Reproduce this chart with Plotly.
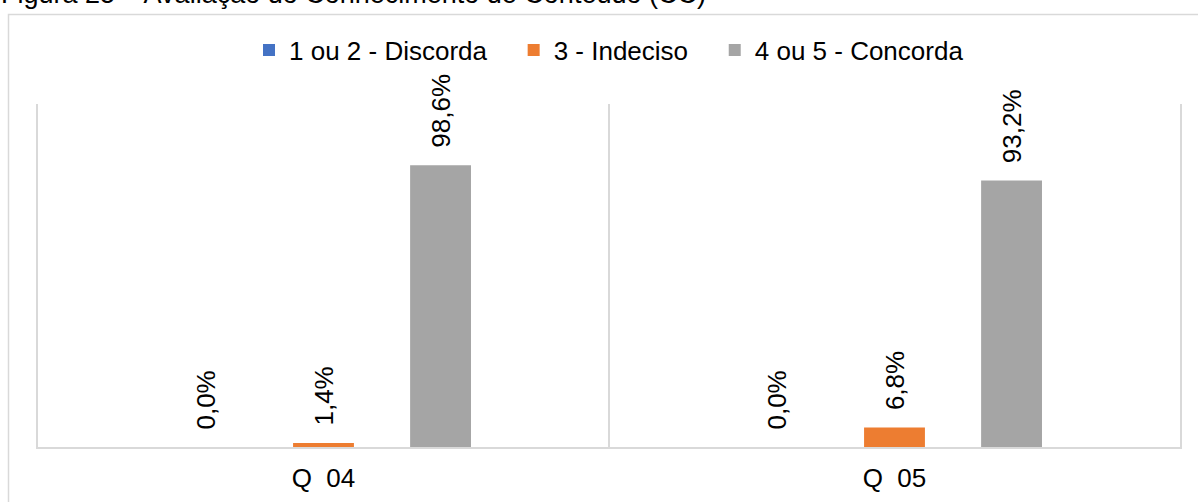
import plotly.graph_objects as go

categories = ["Q\u00a0 04", "Q\u00a0 05"]
series_names = ["1 ou 2 - Discorda", "3 - Indeciso", "4 ou 5 - Concorda"]
discorda = [0.0, 0.0]
indeciso = [1.4, 6.8]
concorda = [98.6, 93.2]
colors = ["#4472C4", "#ED7D31", "#A5A5A5"]
title_text = "Figura 25 \u2013 Avalia\u00e7\u00e3o do Conhecimento de Conte\u00fado (CC)"

FONT = "Liberation Sans, Arial, sans-serif"

def fmt(v):
    return "\u00a0\u00a0" + f"{v:.1f}%".replace(".", ",")

legend_pad = ["\u00a0\u00a0\u00a0", "\u00a0\u00a0\u00a0", ""]

fig = go.Figure()
for name, pad, vals, col in zip(series_names, legend_pad, [discorda, indeciso, concorda], colors):
    fig.add_trace(go.Bar(
        x=categories, y=vals, name=name + pad,
        marker=dict(color=col, line=dict(width=0)),
        text=[fmt(v) for v in vals],
        textposition="outside", textangle=-90,
        textfont=dict(family=FONT, size=26, color="#000000"),
        constraintext="none",
        cliponaxis=False,
    ))

W, H = 1198, 502
L, R, T, B = 38, 18, 104, 55
pw, ph = W - L - R, H - T - B

def px(xp):
    return (xp - L) / pw

def py(yp):
    return (H - B - yp) / ph

fig.update_layout(
    width=W, height=H,
    margin=dict(l=L, r=R, t=T, b=B, pad=0, autoexpand=False),
    paper_bgcolor="white", plot_bgcolor="white",
    barmode="group", bargap=0.385, bargroupgap=0.48,
    font=dict(family=FONT, size=26, color="#000000"),
    showlegend=True,
    legend=dict(orientation="h", x=0.5, xanchor="center", y=py(50), yanchor="middle",
                font=dict(family=FONT, size=26, color="#000000"),
                itemwidth=30, traceorder="normal", bgcolor="rgba(0,0,0,0)"),
    xaxis=dict(showgrid=True, gridcolor="#D9D9D9", gridwidth=2, tickson="boundaries",
               showline=True, linecolor="#D9D9D9", linewidth=2, ticks="",
               tickfont=dict(family=FONT, size=26, color="#000000"), ticklabelstandoff=7,
               zeroline=False, fixedrange=True),
    yaxis=dict(range=[0, 120], visible=True, showticklabels=False, ticks="",
               showline=True, mirror=True, linecolor="#D9D9D9", linewidth=2,
               showgrid=False, zeroline=False, fixedrange=True),
    annotations=[dict(text=title_text, xref="paper", yref="paper", x=px(-1), y=py(-6),
                      xanchor="left", yanchor="middle", showarrow=False,
                      font=dict(family=FONT, size=27, color="#000000"))],
    shapes=[dict(type="rect", xref="paper", yref="paper", x0=px(8.5), x1=px(1210),
                 y0=py(520), y1=py(14.5), line=dict(color="#D9D9D9", width=1.5),
                 fillcolor="rgba(0,0,0,0)", layer="below")],
)

fig.write_html("out.html", config={"displayModeBar": False},
               post_script="document.body.style.margin='0';document.body.style.padding='0';")
